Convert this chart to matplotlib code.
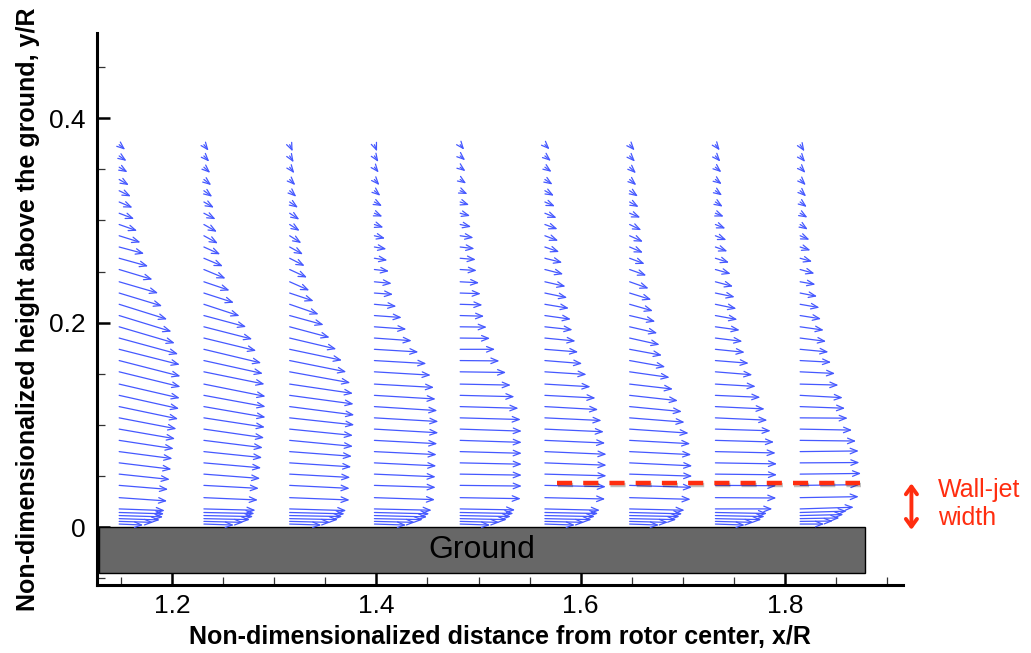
import numpy as np
import matplotlib.pyplot as plt
import matplotlib.patheffects as pe
from matplotlib.patches import Rectangle
from matplotlib.ticker import MultipleLocator

plt.rcParams['font.family'] = ['Liberation Sans', 'DejaVu Sans']

# profile stations (x/R) and sample heights (y/R)
x_stations = [1.148, 1.231, 1.315, 1.398, 1.482, 1.565, 1.648, 1.732, 1.815]
y_rows = [0.374, 0.363, 0.352, 0.340, 0.329, 0.318, 0.307, 0.296, 0.285, 0.274,
          0.263, 0.252, 0.240, 0.229, 0.218, 0.207, 0.196, 0.185, 0.174, 0.163,
          0.152, 0.140, 0.129, 0.118, 0.107, 0.096, 0.085, 0.074, 0.063, 0.052,
          0.041, 0.029, 0.018, 0.0145, 0.0115, 0.0085, 0.0058, 0.0032]

# velocity components at each station (arbitrary units), top to bottom
u1 = [18, 22, 25, 29, 35, 40, 45, 54, 64, 75, 87, 100, 117, 129, 144, 157, 167, 177, 182, 184,
      184, 182, 180, 177, 172, 168, 164, 160, 157, 152, 147, 144, 137, 135, 132, 122, 102, 72]
v1 = [-15, -15, -15, -17, -17, -17, -17, -19, -20, -20, -24, -30, -34, -39, -45, -48, -49, -48, -46, -47,
      -45, -42, -40, -37, -33, -29, -25, -21, -19, -16, -12, -10, -5, -4, -4, -4, -3, -3]
u2 = [14, 16, 19, 22, 25, 30, 35, 39, 42, 49, 57, 65, 77, 90, 107, 127, 145, 157, 172, 177,
      182, 185, 185, 185, 183, 181, 177, 175, 172, 169, 165, 162, 155, 152, 148, 138, 118, 90]
v2 = [-18, -17, -17, -17, -18, -17, -18, -22, -23, -22, -24, -27, -26, -29, -35, -34, -37, -38, -41, -39,
      -37, -37, -34, -32, -28, -26, -22, -18, -15, -13, -9, -7, -4, -3, -3, -3, -3, -3]
u3 = [9, 12, 14, 17, 20, 25, 29, 30, 35, 40, 45, 52, 59, 72, 87, 102, 120, 140, 157, 170,
      182, 190, 192, 194, 194, 190, 190, 187, 185, 182, 180, 180, 170, 165, 158, 145, 122, 95]
v3 = [-20, -19, -18, -17, -18, -17, -19, -19, -22, -22, -23, -24, -26, -24, -30, -28, -32, -33, -33, -34,
      -33, -28, -26, -25, -21, -19, -18, -14, -12, -10, -9, -7, -5, -4, -3, -3, -3, -3]
u4 = [8, 12, 13, 15, 18, 23, 24, 27, 32, 36, 39, 44, 52, 56, 66, 82, 96, 112, 132, 156,
      169, 179, 184, 189, 192, 192, 189, 187, 186, 184, 184, 182, 172, 165, 158, 145, 122, 95]
v4 = [-20, -18, -16, -17, -15, -12, -10, -9, -8, -6, -6, -5, -5, -4, -6, -6, -7, -8, -8, -9,
      -10, -10, -11, -12, -11, -11, -10, -9, -9, -8, -6, -6, -4, -4, -4, -3, -3, -3]
u5 = [12, 15, 16, 18, 22, 27, 30, 33, 40, 43, 47, 50, 57, 62, 67, 72, 80, 90, 105, 118,
      138, 152, 163, 175, 182, 185, 185, 185, 185, 185, 185, 182, 165, 160, 152, 140, 118, 90]
v5 = [-15, -13, -12, -12, -10, -9, -8, -7, -6, -5, -4, -3, -3, -2, -2, -2, -1, -1, 0, -1,
      -2, -3, -4, -5, -5, -6, -6, -5, -4, -3, -2, -3, -3, -3, -3, -3, -3, -3]
u6 = [14, 18, 20, 23, 27, 30, 35, 38, 40, 43, 52, 55, 62, 67, 72, 78, 83, 92, 100, 112,
      125, 137, 152, 160, 170, 177, 181, 185, 185, 185, 183, 181, 165, 160, 150, 140, 118, 90]
v6 = [-14, -15, -14, -15, -15, -13, -14, -14, -15, -15, -13, -14, -14, -14, -12, -11, -9, -9, -8, -9,
      -8, -8, -8, -9, -8, -8, -8, -8, -7, -5, -4, -4, -4, -3, -3, -3, -3, -3]
u7 = [15, 16, 19, 20, 25, 27, 32, 35, 40, 40, 45, 50, 57, 65, 70, 77, 83, 90, 97, 107,
      120, 130, 145, 157, 165, 177, 182, 185, 188, 188, 187, 183, 165, 158, 150, 140, 115, 88]
v7 = [-17, -17, -18, -17, -17, -15, -13, -17, -18, -17, -17, -18, -20, -20, -20, -18, -19, -20, -18, -19,
      -17, -15, -16, -15, -13, -12, -10, -9, -9, -6, -6, -5, -4, -4, -3, -3, -3, -3]
u8 = [13, 15, 18, 19, 20, 22, 25, 30, 33, 36, 41, 46, 53, 58, 63, 66, 73, 81, 88, 100,
      111, 121, 135, 148, 156, 166, 176, 181, 185, 185, 183, 183, 171, 155, 148, 138, 115, 88]
v8 = [-17, -17, -15, -14, -14, -14, -10, -12, -13, -13, -13, -13, -14, -12, -13, -12, -10, -10, -9, -8,
      -9, -7, -6, -7, -7, -5, -5, -4, -3, -2, -1, -1, 0, -3, -3, -3, -3, -3]
u9 = [13, 15, 16, 17, 18, 20, 22, 23, 28, 31, 36, 43, 46, 51, 58, 63, 71, 78, 85, 93,
      105, 115, 128, 135, 143, 156, 168, 176, 178, 183, 178, 176, 161, 140, 130, 118, 98, 72]
v9 = [-20, -18, -17, -17, -17, -15, -13, -15, -12, -10, -10, -12, -8, -10, -10, -10, -10, -10, -8, -5,
      -5, -3, -7, -5, -1, -3, -2, 2, 1, 2, 2, 3, 5, 4, 3, 2, 1, 0]

wall_jet_y = 0.0436          # wall-jet width marker height
wall_jet_x = (1.577, 1.874)
ground_x = (1.128, 1.879)
ground_depth = 0.0444

red = '#ff2d0f'
blue = '#4558ff'
vel_scale = 3063  # velocity units per x/R of arrow length

fig, ax = plt.subplots(figsize=(10.31, 6.53), dpi=100)
fig.subplots_adjust(left=0.0941, right=0.8758, bottom=0.1041, top=0.9495)

us = [u1, u2, u3, u4, u5, u6, u7, u8, u9]
vs = [v1, v2, v3, v4, v5, v6, v7, v8, v9]
# vectors with open line heads
for x0, u, v in zip(x_stations, us, vs):
    for y0, ui, vi in zip(y_rows, u, v):
        ax.annotate('', xy=(x0 + ui / vel_scale, y0 + vi / vel_scale), xytext=(x0, y0),
                    arrowprops=dict(arrowstyle='->,head_length=0.5,head_width=0.2',
                                    color=blue, lw=0.9, shrinkA=0, shrinkB=0),
                    zorder=3)

# ground block
ax.add_patch(Rectangle((ground_x[0], -ground_depth), ground_x[1] - ground_x[0], ground_depth,
                       facecolor='#676767', edgecolor='black', lw=1, zorder=2))
ax.text(np.mean(ground_x), -ground_depth / 2, 'Ground', fontsize=23,
        ha='center', va='center', zorder=4)

# wall-jet width marker
ax.plot(wall_jet_x, [wall_jet_y, wall_jet_y], color=red, lw=3.2,
        linestyle=(0, (3.4, 2.5)), zorder=5,
        path_effects=[pe.SimpleLineShadow(offset=(0.5, -1.5), alpha=0.25), pe.Normal()])
ax.annotate('', xy=(1.924, -0.0025), xytext=(1.924, 0.043),
            arrowprops=dict(arrowstyle='<->,head_length=0.55,head_width=0.4',
                            color=red, lw=2.8, shrinkA=0, shrinkB=0),
            annotation_clip=False)
ax.text(1.95, 0.0225, 'Wall-jet\nwidth', color=red, fontsize=18,
        ha='left', va='center', clip_on=False)

ax.set_xlim(1.1263, 1.9157)
ax.set_ylim(-0.0564, 0.4832)

for s in ['top', 'right']:
    ax.spines[s].set_visible(False)
for s in ['left', 'bottom']:
    ax.spines[s].set_linewidth(2.2)

ax.set_xticks([1.2, 1.4, 1.6, 1.8])
ax.set_xticklabels(['1.2', '1.4', '1.6', '1.8'])
ax.set_yticks([0, 0.2, 0.4])
ax.set_yticklabels(['0', '0.2', '0.4'])
ax.xaxis.set_minor_locator(MultipleLocator(0.05))
ax.yaxis.set_minor_locator(MultipleLocator(0.05))
ax.tick_params(which='major', direction='in', length=9, width=1.8, labelsize=19)
ax.tick_params(which='minor', direction='in', length=5.5, width=0.9, color='#333333')
ax.tick_params(axis='x', which='major', pad=6.5)
ax.tick_params(axis='y', which='major', pad=8.5)

ax.set_xlabel('Non-dimensionalized distance from rotor center, x/R',
              fontsize=18, fontweight='bold', labelpad=5)
ax.set_ylabel('Non-dimensionalized height above the ground, y/R',
              fontsize=18, fontweight='bold', labelpad=6)

plt.savefig('out.png', dpi=100)
